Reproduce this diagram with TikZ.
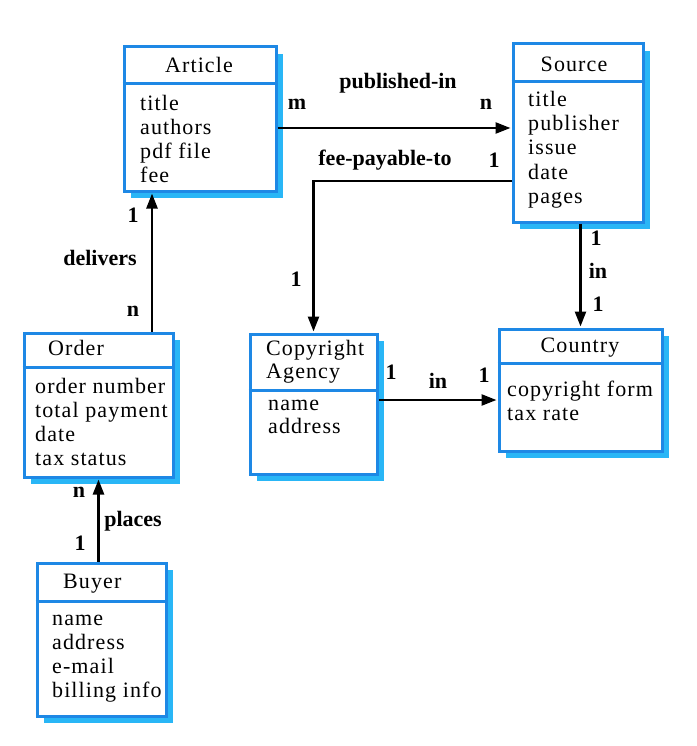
\documentclass[tikz,border=0pt]{standalone}
\usepackage{fontspec}
\setmainfont{Liberation Serif}
\newfontfamily\attrfont[LetterSpace=5]{Liberation Serif}
\usetikzlibrary{arrows.meta,calc}
\definecolor{boxblue}{RGB}{30,136,229}
\definecolor{shadowblue}{RGB}{41,182,246}
\begin{document}
\begin{tikzpicture}[x=1pt,y=-1pt,
  box/.style={draw=boxblue,line width=3pt,fill=white,rectangle,inner sep=0pt},
  shadowbox/.style={fill=shadowblue},
  divider/.style={draw=boxblue,line width=3pt},
  attr/.style={font=\attrfont\fontsize{22}{24}\selectfont,inner sep=0pt,anchor=base west},
  ttl/.style={font=\attrfont\fontsize{22}{24}\selectfont,inner sep=0pt,anchor=base},
  lbl/.style={font=\bfseries\fontsize{22}{24}\selectfont,inner sep=0pt,anchor=center},
  arr/.style={draw,line width=2.5pt,-{Triangle[length=15pt,width=11pt]},shorten >=1pt}
]
\useasboundingbox (0,0) rectangle (696,746);
% shadows
\fill[shadowbox] (131,54) rectangle (283,198);
\fill[shadowbox] (520,51) rectangle (650,229);
\fill[shadowbox] (257,341) rectangle (384,481);
\fill[shadowbox] (506,336) rectangle (669,458);
\fill[shadowbox] (31,340) rectangle (180,484);
\fill[shadowbox] (44,570) rectangle (173,723);
% boxes
\node[box,minimum width=152pt,minimum height=144pt] (article) at (200,119) {};
\node[box,minimum width=130pt,minimum height=178pt] (source) at (578,133) {};
\node[box,minimum width=127pt,minimum height=140pt] (agency) at (313.5,404) {};
\node[box,minimum width=163pt,minimum height=122pt] (country) at (580.5,390) {};
\node[box,minimum width=149pt,minimum height=144pt] (order) at (98.5,405) {};
\node[box,minimum width=129pt,minimum height=153pt] (buyer) at (101.5,639.5) {};
% dividers
\draw[divider] (article.west |- 0,84) -- (article.east |- 0,84);
\draw[divider] (source.west |- 0,82) -- (source.east |- 0,82);
\draw[divider] (agency.west |- 0,390) -- (agency.east |- 0,390);
\draw[divider] (country.west |- 0,363) -- (country.east |- 0,363);
\draw[divider] (order.west |- 0,367) -- (order.east |- 0,367);
\draw[divider] (buyer.west |- 0,601) -- (buyer.east |- 0,601);
% titles
\node[ttl] (t-article) at (199,73) {Article};
\node[ttl] (t-source) at (574,72) {Source};
\node[ttl,anchor=base west] (t-agency1) at (266,355) {Copyright};
\node[ttl,anchor=base west] (t-agency2) at (266,378) {Agency};
\node[ttl] (t-country) at (580,352) {Country};
\node[ttl,anchor=base west] (t-order) at (48,355) {Order};
\node[ttl,anchor=base west] (t-buyer) at (63,588) {Buyer};
% attributes
\foreach \t [count=\i] in {title,authors,pdf file,fee}
  \node[attr] (a-article-\i) at (140,{111+23.7*(\i-1)}) {\t};
\foreach \t [count=\i] in {title,publisher,issue,date,pages}
  \node[attr] (a-source-\i) at (528,{107+24*(\i-1)}) {\t};
\foreach \t [count=\i] in {name,address}
  \node[attr] (a-agency-\i) at (268,{410+23.5*(\i-1)}) {\t};
\foreach \t [count=\i] in {copyright form,tax rate}
  \node[attr] (a-country-\i) at (507,{396+24*(\i-1)}) {\t};
\foreach \t [count=\i] in {order number,total payment,date,tax status}
  \node[attr] (a-order-\i) at (35,{393+24.3*(\i-1)}) {\t};
\foreach \t [count=\i] in {name,address,e-mail,billing info}
  \node[attr] (a-buyer-\i) at (52,{625+24*(\i-1)}) {\t};
% connectors
\draw[arr] ([yshift=-9pt]article.east) -- ([yshift=-9pt]article.east -| source.west);
\draw[arr] ([yshift=-48pt]source.west) -| (agency.north);
\draw[arr] (source.south -| country.north) -- (country.north);
\draw[arr] ([yshift=4pt]agency.east) -- ([yshift=4pt]agency.east -| country.west);
\coordinate (dl) at ([xshift=-48pt]article.south);
\draw[arr] (order.north -| dl) -- (dl);
\draw[arr] (buyer.north -| order.south) -- (order.south);
% labels
\node[lbl] (l-pub) at (398,83) {published-in};
\node[lbl] (l-pub-m) at (297,104) {m};
\node[lbl] (l-pub-n) at (486,104) {n};
\node[lbl] (l-fee) at (385,160) {fee-payable-to};
\node[lbl] (l-fee-1a) at (494,160) {1};
\node[lbl] (l-fee-1b) at (296,279) {1};
\node[lbl] (l-sc-1a) at (596,238) {1};
\node[lbl] (l-sc-in) at (598,271) {in};
\node[lbl] (l-sc-1b) at (598,304) {1};
\node[lbl] (l-ac-1a) at (391,372) {1};
\node[lbl] (l-ac-in) at (438,381) {in};
\node[lbl] (l-ac-1b) at (484,375) {1};
\node[lbl] (l-del-1) at (133,215) {1};
\node[lbl] (l-del) at (100,258) {delivers};
\node[lbl] (l-del-n) at (133,311) {n};
\node[lbl] (l-pl-n) at (79,492) {n};
\node[lbl] (l-pl) at (133,521) {places};
\node[lbl] (l-pl-1) at (80,543) {1};
\end{tikzpicture}
\end{document}
